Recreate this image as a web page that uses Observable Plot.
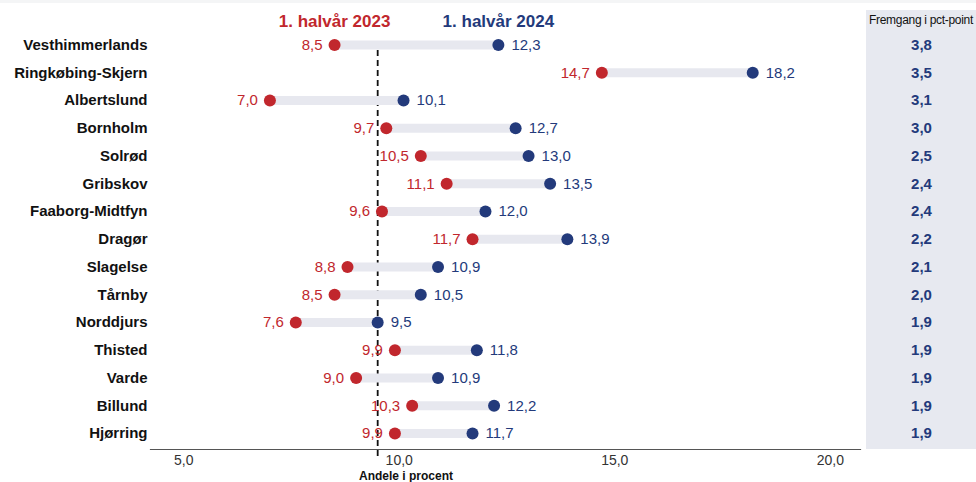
<!DOCTYPE html>
<html>
<head>
<meta charset="utf-8">
<script src="https://cdn.jsdelivr.net/npm/d3@7"></script>
<script src="https://cdn.jsdelivr.net/npm/@observablehq/plot@0.6"></script>
<style>
  body { margin: 0; background: white; font-family: "Liberation Sans", Arial, sans-serif; }
  #wrap { position: relative; width: 976px; height: 482px; overflow: hidden; }
  #topstrip { position: absolute; left: 0; top: 0; width: 976px; height: 3px; background: #f4f5f6; }
  #colbg { position: absolute; left: 866px; top: 10px; width: 110px; height: 439px; background: #e7e9f0; }
  #chart { position: absolute; left: 0; top: 0; }
  #xlabel { position: absolute; top: 469px; left: 406px; transform: translateX(-50%); font-weight: bold; font-size: 12px; color: #111; white-space: nowrap; }
  #colhead { position: absolute; top: 13px; left: 866px; width: 110px; text-align: center; font-size: 12px; color: #111; white-space: nowrap; letter-spacing: -0.3px; }
</style>
</head>
<body>
<div id="wrap">
  <div id="topstrip"></div>
  <div id="colbg"></div>
  <div id="colhead">Fremgang i pct-point</div>
  <div id="chart"></div>
  <div id="xlabel">Andele i procent</div>
</div>
<script>
const municipalities = ["Vesthimmerlands","Ringkøbing-Skjern","Albertslund","Bornholm","Solrød","Gribskov","Faaborg-Midtfyn","Dragør","Slagelse","Tårnby","Norddjurs","Thisted","Varde","Billund","Hjørring"];
const share2023 = [8.5,14.7,7.0,9.7,10.5,11.1,9.6,11.7,8.8,8.5,7.6,9.9,9.0,10.3,9.9];
const share2024 = [12.3,18.2,10.1,12.7,13.0,13.5,12.0,13.9,10.9,10.5,9.5,11.8,10.9,12.2,11.7];
const progress = [3.8,3.5,3.1,3.0,2.5,2.4,2.4,2.2,2.1,2.0,1.9,1.9,1.9,1.9,1.9];
const referenceLine = [9.5];
const xTicks = [5, 10, 15, 20];
const seriesLabels = ["1. halvår 2023", "1. halvår 2024"];

const RED = "#c1272d";
const NAVY = "#233a7b";
const fmt = v => v.toFixed(1).replace(".", ",");

const rows = municipalities.map((name, i) => ({name, a: share2023[i], b: share2024[i], d: progress[i]}));
const first = rows.slice(0, 1);

const plot = Plot.plot({
  width: 976,
  height: 482,
  marginLeft: 150,
  marginRight: 116,
  marginTop: 31,
  marginBottom: 33,
  style: {background: "transparent", fontFamily: "'Liberation Sans', Arial, sans-serif", overflow: "visible"},
  x: {domain: [4.23, 20.7]},
  y: {type: "point", domain: municipalities, range: [44.5, 433], padding: 0, round: false},
  marks: [
    Plot.axisX({ticks: xTicks, tickFormat: fmt, tickSize: 0, tickPadding: 6, fontSize: 14, label: null, color: "#333"}),
    Plot.axisY({tickSize: 0, tickPadding: 3, fontSize: 15, fontWeight: "bold", label: null, color: "#111"}),
    Plot.frame({anchor: "bottom", stroke: "#555", strokeWidth: 1.2}),
    Plot.ruleX(referenceLine, {insetTop: 19, insetBottom: -7, stroke: "#111", strokeWidth: 1.8, strokeDasharray: "6,4"}),
    Plot.link(rows, {x1: "a", x2: "b", y1: "name", y2: "name", stroke: "#e7e8ef", strokeWidth: 9}),
    Plot.dot(rows, {x: "a", y: "name", r: 6, fill: RED}),
    Plot.dot(rows, {x: "b", y: "name", r: 6, fill: NAVY}),
    Plot.text(rows, {x: "a", y: "name", text: d => fmt(d.a), textAnchor: "end", dx: -12, fill: RED, fontSize: 15}),
    Plot.text(rows, {x: "b", y: "name", text: d => fmt(d.b), textAnchor: "start", dx: 13, fill: NAVY, fontSize: 15}),
    Plot.text(first, {x: "a", y: "name", text: () => seriesLabels[0], dy: -23, fill: RED, fontSize: 17, fontWeight: "bold"}),
    Plot.text(first, {x: "b", y: "name", text: () => seriesLabels[1], dy: -23, fill: NAVY, fontSize: 17, fontWeight: "bold"}),
    Plot.text(rows, {y: "name", text: d => fmt(d.d), frameAnchor: "right", dx: 61, textAnchor: "middle", fill: NAVY, fontSize: 15, fontWeight: "bold"})
  ]
});
document.getElementById("chart").appendChild(plot);
</script>
</body>
</html>
